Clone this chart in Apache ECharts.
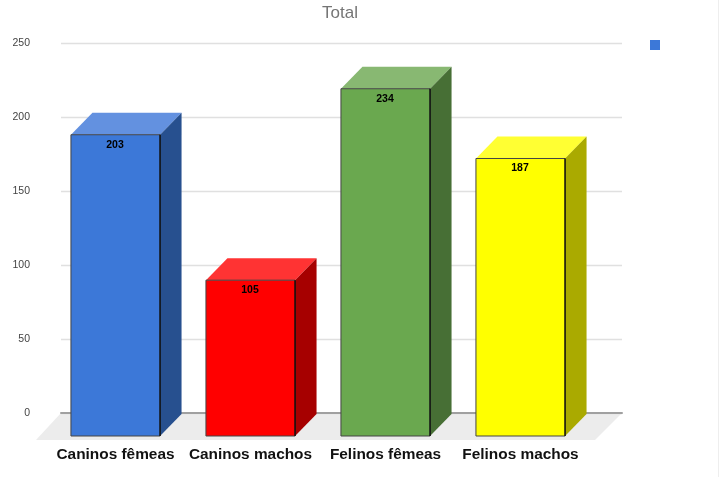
<!DOCTYPE html>
<html><head><meta charset="utf-8">
<style>html,body{margin:0;padding:0;background:#fff}#c{position:absolute;left:0;top:0;width:719px;height:477px}#e{position:absolute;left:718px;top:0;width:1px;height:477px;background:#eeeeee}</style>
<script src="https://cdn.jsdelivr.net/npm/echarts@6/dist/echarts.min.js"></script>
</head><body><div id="c"></div><div id="e"></div>
<script>
const categories = ['Caninos fêmeas', 'Caninos machos', 'Felinos fêmeas', 'Felinos machos'];
const values = [203, 105, 234, 187];
const yTicks = [0, 50, 100, 150, 200, 250];
const frontColors = ['#3c78d8', '#ff0000', '#6aa84f', '#ffff00'];
const topColors = ['#6391e0', '#ff3333', '#88b872', '#ffff33'];
const sideColors = ['#27508f', '#a60000', '#476f35', '#aaaa00'];
const DEPTH_X = 21.5, DEPTH_Y = 22, FONT = '"Liberation Sans", Arial, sans-serif';

const chart = echarts.init(document.getElementById('c'), null, {renderer: 'canvas'});
chart.setOption({
  animation: false,
  backgroundColor: '#fff',
  title: {text: 'Total', left: 335, top: 0, textAlign: 'center',
    textStyle: {color: '#757575', fontSize: 17, fontWeight: 'normal', fontFamily: FONT}},
  legend: {left: 645, top: 35, itemWidth: 10, itemHeight: 10, icon: 'rect', itemGap: 0,
    data: [{name: ' ', itemStyle: {color: frontColors[0]}}], textStyle: {fontSize: 10, fontFamily: FONT}, selectedMode: false},
  grid: [
    {left: 61, top: 43.5, width: 561, height: 369.5},
    {left: 48, top: 65, width: 540, height: 371}
  ],
  xAxis: [
    {gridIndex: 0, type: 'value', min: 0, max: 1, show: true, splitLine: {show: false},
      axisTick: {show: false}, axisLabel: {show: false},
      axisLine: {show: true, onZero: false, lineStyle: {color: '#a0a0a0', width: 2}}},
    {gridIndex: 1, type: 'category', data: categories, axisLine: {show: false}, axisTick: {show: false},
      axisLabel: {margin: 11, color: '#111', fontWeight: 'bold', fontSize: 15.4, fontFamily: FONT, interval: 0}}
  ],
  yAxis: [
    {gridIndex: 0, type: 'value', min: yTicks[0], max: yTicks[yTicks.length - 1], interval: 50,
      axisLine: {show: false}, axisTick: {show: false},
      axisLabel: {margin: 31, color: '#444', fontSize: 10.5, fontFamily: FONT, verticalAlign: 'middle', lineHeight: 12, padding: [4, 0, 0, 0]},
      splitLine: {show: true, lineStyle: {color: '#e0e0e0', width: 1.3}}},
    {gridIndex: 1, type: 'value', min: yTicks[0], max: yTicks[yTicks.length - 1], show: false, splitLine: {show: false}}
  ],
  series: [
    {
      type: 'custom', name: 'floor', xAxisIndex: 0, yAxisIndex: 0, z: -1, silent: true,
      data: [[0, 0]],
      renderItem: function (params, api) {
        const g = params.coordSys, b = g.y + g.height;
        return {type: 'polygon', shape: {points: [[g.x, b], [g.x + g.width, b],
          [g.x + g.width - 27, b + 27], [g.x - 25, b + 27]]}, style: {fill: '#ececec'}};
      }
    },
    {
      type: 'custom', name: ' ', xAxisIndex: 1, yAxisIndex: 1, z: 3,
      itemStyle: {color: frontColors[0]},
      encode: {x: 0, y: 1},
      data: values.map((v, i) => [i, v]),
      renderItem: function (params, api) {
        const i = api.value(0), v = api.value(1);
        const c = api.coord([i, v]), base = api.coord([i, 0]);
        const w = api.size([1, 0])[0] * 0.66;
        const l = c[0] - w / 2, r = c[0] + w / 2, t = c[1], b = base[1];
        return {type: 'group', children: [
          {type: 'polygon', shape: {points: [[l, t], [r, t], [r + DEPTH_X, t - DEPTH_Y], [l + DEPTH_X, t - DEPTH_Y]]},
            style: {fill: topColors[i]}},
          {type: 'polygon', shape: {points: [[r, t], [r + DEPTH_X, t - DEPTH_Y], [r + DEPTH_X, b - DEPTH_Y], [r, b]]},
            style: {fill: sideColors[i]}},
          {type: 'rect', shape: {x: l, y: t, width: w, height: b - t},
            style: {fill: frontColors[i], stroke: '#444', lineWidth: 1}},
          {type: 'line', shape: {x1: r, y1: t, x2: r, y2: b}, style: {stroke: '#000', lineWidth: 1.2}},
          {type: 'text', style: {text: String(v), x: c[0] - 0.5, y: t + 10, align: 'center', verticalAlign: 'middle',
            fill: '#000', font: 'bold 10.5px ' + FONT}}
        ]};
      }
    }
  ]
});
</script></body></html>
